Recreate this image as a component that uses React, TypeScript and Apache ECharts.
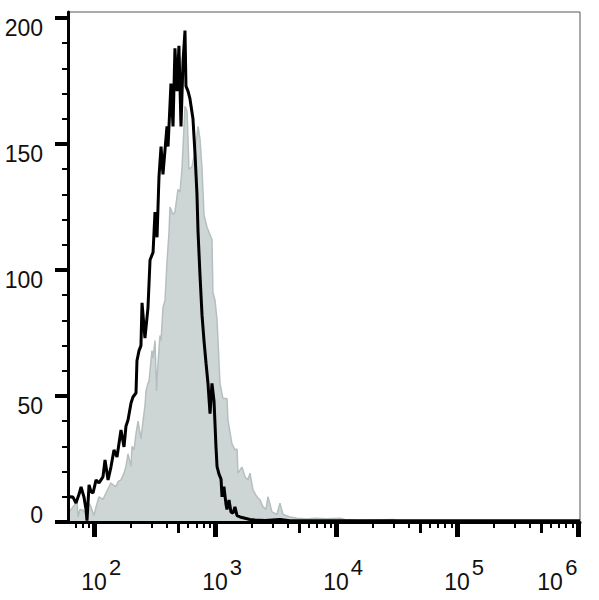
import { useEffect, useRef } from 'react';
import * as echarts from 'echarts';

// x axis is in log10 units of fluorescence intensity
const X_MIN = 1.785;
const X_MAX = 6.017;
const Y_MAX = 202.4;

const decadeExponents = [2, 3, 4, 5, 6];
const minorDecades = [1, 2, 3, 4, 5];
const minorMultipliers = [2, 3, 4, 6, 7, 8, 9];
const midMultiplier = 5;
const yMajorTicks = [0, 50, 100, 150, 200];
const yMinorTicks = [10, 20, 30, 40, 60, 70, 80, 90, 110, 120, 130, 140, 160, 170, 180, 190];

// black histogram (stained sample)
const blackLogX = [
  1.785, 1.802, 1.826, 1.851, 1.876, 1.893, 1.917, 1.934, 1.942, 1.959, 1.975, 1.992,
  2.017, 2.041, 2.074, 2.091, 2.116, 2.140, 2.165, 2.190, 2.223, 2.248, 2.264, 2.281,
  2.306, 2.322, 2.347, 2.355, 2.372, 2.388, 2.397, 2.421, 2.446, 2.463, 2.488, 2.504,
  2.521, 2.537, 2.554, 2.570, 2.603, 2.612, 2.636, 2.653, 2.669, 2.686, 2.702, 2.719,
  2.736, 2.752, 2.760, 2.777, 2.793, 2.818, 2.835, 2.851, 2.860, 2.876, 2.893, 2.909,
  2.926, 2.942, 2.959, 2.975, 2.992, 3.008, 3.017, 3.033, 3.050, 3.058, 3.074, 3.091,
  3.099, 3.116, 3.132, 3.149, 3.165, 3.182, 3.207, 3.248, 3.289, 3.331, 3.413, 3.537,
  3.620, 4.000, 4.500, 5.000, 5.500, 6.017,
];
const blackCounts = [
  9.5, 10, 9.9, 7.5, 11, 13.9, 9.9, 5, 0.5, 14.7, 12, 11.5,
  16.7, 15.5, 17.9, 24.6, 16.7, 21.8, 28.6, 25.8, 36.5, 29.8, 38, 40.5,
  47.2, 49.6, 51.2, 64, 68, 70, 87, 73, 85, 104, 107, 123,
  113, 137, 149, 138, 157, 149, 174, 157, 188, 171, 189, 157,
  183, 195, 173, 171, 168, 160, 146, 130, 115, 98, 82, 72,
  63, 55, 43, 55, 48, 30, 22, 19, 17, 10, 14, 7,
  5, 8.7, 4, 3.5, 6, 2.5, 2, 1.5, 1, 0.8, 0.6, 1,
  0.5, 0.5, 0.5, 0.5, 0.5, 0.5,
];

// gray filled histogram (control)
const grayLogX = [
  1.785, 1.810, 1.826, 1.860, 1.868, 1.884, 1.909, 1.934, 1.959, 1.975, 2.000, 2.017,
  2.041, 2.074, 2.099, 2.124, 2.140, 2.157, 2.182, 2.198, 2.223, 2.248, 2.264, 2.281,
  2.306, 2.314, 2.331, 2.347, 2.364, 2.388, 2.405, 2.421, 2.430, 2.446, 2.455, 2.479,
  2.488, 2.504, 2.517, 2.525, 2.545, 2.554, 2.570, 2.587, 2.603, 2.620, 2.628, 2.653,
  2.669, 2.694, 2.711, 2.727, 2.752, 2.769, 2.785, 2.810, 2.826, 2.843, 2.860, 2.876,
  2.893, 2.909, 2.934, 2.959, 2.975, 2.983, 3.000, 3.017, 3.025, 3.041, 3.066, 3.099,
  3.107, 3.140, 3.165, 3.182, 3.190, 3.223, 3.248, 3.273, 3.289, 3.314, 3.347, 3.372,
  3.397, 3.421, 3.438, 3.471, 3.512, 3.537, 3.562, 3.620, 3.678, 3.760, 3.826, 3.926,
  4.033, 4.074, 4.198, 4.471, 4.529, 5.000, 5.500, 6.017,
];
const grayCounts = [
  3.6, 5, 6, 8, 2, 5, 4.8, 3, 7.5, 6, 2.5, 6,
  10, 9, 11.5, 14, 15.5, 14.7, 14, 16, 16.7, 19.4, 22, 27,
  22, 30, 28.6, 35, 40, 33, 40, 46, 52, 55, 56, 68,
  65, 72, 52, 60, 74, 72, 85, 88, 103, 115, 125, 122,
  123, 132, 131, 140, 165, 163, 140, 141, 145, 150, 157, 152,
  140, 122, 117, 114, 112, 91, 88, 80, 72, 55, 49, 49,
  40.5, 31, 28.6, 29, 19.4, 21.8, 18, 16.7, 19.4, 12.7, 10, 8.7,
  6, 5, 10, 4, 3, 7.5, 3, 2, 1.5, 1.2, 1.5, 1.3,
  1.5, 1, 0.6, 1, 0.4, 0.4, 0.4, 0.4,
];

const FONT = "'Liberation Sans', Arial, Helvetica, sans-serif";
const TEXT_COLOR = '#111';

export default function App() {
  const ref = useRef<HTMLDivElement>(null);

  useEffect(() => {
    if (!ref.current) return;
    const chart = echarts.init(ref.current, undefined, { renderer: 'svg' });

    const inRange = (v: number) => v >= X_MIN && v <= X_MAX;
    const minorX = minorDecades
      .flatMap((d) => minorMultipliers.map((m) => d + Math.log10(m)))
      .filter(inRange);
    const midX = minorDecades.map((d) => d + Math.log10(midMultiplier)).filter(inRange);

    const blackData = blackLogX.map((x, i) => [x, blackCounts[i]]);
    const grayData = grayLogX.map((x, i) => [x, grayCounts[i]]);

    const baseText = { fontSize: 23, fontFamily: FONT, color: TEXT_COLOR };

    const hiddenX = {
      type: 'value',
      min: X_MIN,
      max: X_MAX,
      position: 'bottom',
      gridIndex: 0,
      z: 5,
      axisLine: { show: false },
      splitLine: { show: false },
    };

    chart.setOption({
      animation: false,
      backgroundColor: '#fff',
      grid: {
        left: 68,
        right: 19,
        top: 12,
        bottom: 78,
        show: true,
        borderColor: '#555',
        borderWidth: 1,
        containLabel: false,
        outerBoundsMode: 'none',
      },
      xAxis: [
        {
          type: 'value',
          min: X_MIN,
          max: X_MAX,
          position: 'bottom',
          z: 5,
          axisLine: { show: true, lineStyle: { color: '#000', width: 3 } },
          axisTick: {
            show: true,
            customValues: decadeExponents,
            length: 15,
            lineStyle: { color: '#000', width: 5 },
          },
          axisLabel: {
            show: true,
            customValues: decadeExponents,
            margin: 60,
            verticalAlign: 'middle',
            formatter: (v: number) => (v === 6 ? '{e|10}' : '{m|10}'),
            rich: {
              m: { ...baseText },
              e: { ...baseText, padding: [0, 56, 0, 0] },
            },
          },
          splitLine: { show: false },
        },
        {
          ...hiddenX,
          axisTick: {
            show: true,
            customValues: minorX,
            length: 6,
            lineStyle: { color: '#000', width: 2 },
          },
          axisLabel: {
            show: true,
            customValues: decadeExponents,
            margin: 45,
            verticalAlign: 'middle',
            formatter: (v: number) => (v === 6 ? `{e|${v}}` : `{m|${v}}`),
            rich: {
              m: { ...baseText, fontSize: 22, padding: [0, 0, 0, 42] },
              e: { ...baseText, fontSize: 22, padding: [0, 13, 0, 0] },
            },
          },
        },
        {
          ...hiddenX,
          axisTick: {
            show: true,
            customValues: midX,
            length: 11,
            lineStyle: { color: '#000', width: 3 },
          },
          axisLabel: { show: false },
        },
      ],
      yAxis: [
        {
          type: 'value',
          min: 0,
          max: Y_MAX,
          position: 'left',
          z: 5,
          axisLine: { show: true, lineStyle: { color: '#000', width: 3 } },
          axisTick: {
            show: true,
            customValues: yMajorTicks,
            length: 13,
            lineStyle: { color: '#000', width: 4 },
          },
          axisLabel: {
            show: true,
            customValues: yMajorTicks,
            margin: 25,
            formatter: (v: number) => (v === 0 ? '{z|0}' : `{n|${v}}`),
            rich: {
              n: { ...baseText, padding: [20, 0, 0, 0] },
              z: { ...baseText, padding: [0, 0, 14, 0] },
            },
          },
          splitLine: { show: false },
        },
        {
          type: 'value',
          min: 0,
          max: Y_MAX,
          position: 'left',
          z: 5,
          axisLine: { show: false },
          axisTick: {
            show: true,
            customValues: yMinorTicks,
            length: 6,
            lineStyle: { color: '#000', width: 2 },
          },
          axisLabel: { show: false },
          splitLine: { show: false },
        },
      ],
      series: [
        {
          type: 'line',
          name: 'control',
          data: grayData,
          xAxisIndex: 0,
          yAxisIndex: 0,
          symbol: 'none',
          showSymbol: false,
          z: 2,
          lineStyle: { color: '#b6bfbf', width: 1.5 },
          areaStyle: { color: '#ced5d5', opacity: 1 },
        },
        {
          type: 'line',
          name: 'stained',
          data: blackData,
          xAxisIndex: 0,
          yAxisIndex: 0,
          symbol: 'none',
          showSymbol: false,
          z: 3,
          lineStyle: { color: '#000', width: 3 },
        },
      ],
    });

    return () => chart.dispose();
  }, []);

  return (
    <div
      ref={ref}
      style={{ position: 'absolute', left: 0, top: 0, width: 599, height: 600 }}
    />
  );
}
